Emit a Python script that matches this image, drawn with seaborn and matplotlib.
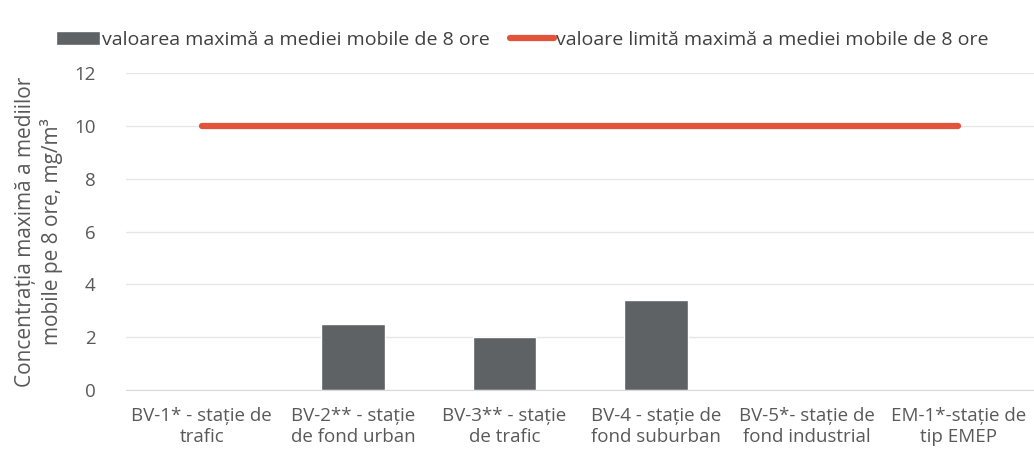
import numpy as np
import pandas as pd
import matplotlib
matplotlib.use("Agg")
import matplotlib.pyplot as plt
import seaborn as sns

# statii de monitorizare
stations = ["BV-1* - stație de\ntrafic", "BV-2** - stație\nde fond urban",
            "BV-3** - stație\nde trafic", "BV-4 - stație de\nfond suburban",
            "BV-5*- stație de\nfond industrial", "EM-1*-stație de\ntip EMEP"]
max_8h = [np.nan, 2.5, 2.0, 3.4, np.nan, np.nan]   # mg/m3
limit_8h = [10, 10, 10, 10, 10, 10]

bar_label = "valoarea maximă a mediei mobile de 8 ore"
line_label = "valoare limită maximă a mediei mobile de 8 ore"

df = pd.DataFrame({"statie": stations, "max": max_8h, "limita": limit_8h})

sns.set_style("white")
plt.rcParams["font.family"] = ["Open Sans", "DejaVu Sans"]

fig, ax = plt.subplots(figsize=(10.34, 4.65), dpi=100)
fig.subplots_adjust(left=0.122, right=1.0, top=0.843, bottom=0.161)

sns.barplot(data=df, x="statie", y="max", color="#5e6265", width=0.42,
            saturation=1, ax=ax, label=bar_label)
sns.lineplot(data=df, x="statie", y="limita", color="#e2533b", linewidth=4.5,
             ax=ax, label=line_label, sort=False)

ax.set_ylim(0, 12)
ax.set_yticks(range(0, 13, 2))
ax.set_xlim(-0.5, 5.5)
ax.yaxis.grid(True, color="#e6e6e6", linewidth=1)
for s in ["top", "right", "left"]:
    ax.spines[s].set_visible(False)
ax.spines["bottom"].set_color("#d9d9d9")
ax.tick_params(axis="y", length=0, labelsize=13.5, colors="#595959", pad=22)
ax.tick_params(axis="x", length=0, labelsize=13.5, colors="#595959", pad=12)
ax.set_xlabel("")
ax.set_ylabel("Concentrația maximă a mediilor\nmobile pe 8 ore, mg/m³",
              fontsize=15, color="#595959", labelpad=8)

handles, labels = ax.get_legend_handles_labels()
order = [labels.index(bar_label), labels.index(line_label)]
ax.get_legend().remove()
fig.legend([handles[i] for i in order], [labels[i] for i in order],
           loc="center", bbox_to_anchor=(0.505, 0.915), ncol=2, frameon=False,
           fontsize=14, handlelength=2.3, handletextpad=0.1, columnspacing=1.0,
           labelcolor="#404040")

fig.savefig("out.png", dpi=100)
